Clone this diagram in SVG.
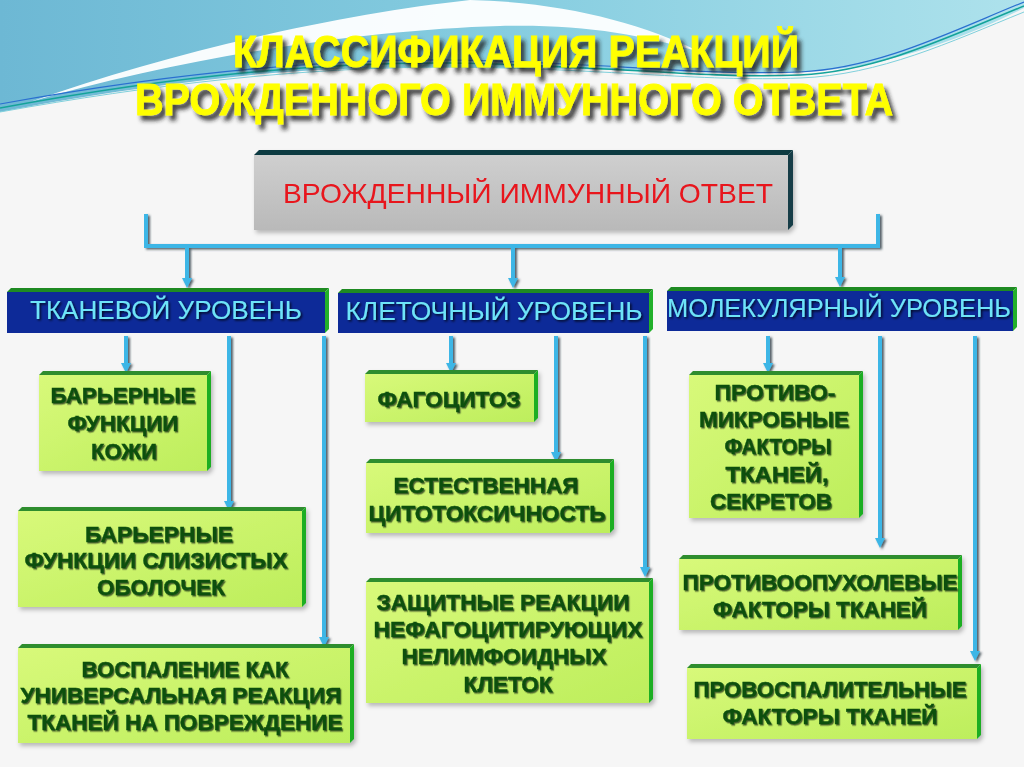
<svg xmlns="http://www.w3.org/2000/svg" width="1024" height="767" viewBox="0 0 1024 767">
<defs>
<linearGradient id="sky" x1="0" y1="0" x2="1" y2="0">
<stop offset="0" stop-color="#6db8d4"/><stop offset="0.5" stop-color="#86cde0"/><stop offset="1" stop-color="#aee2ec"/>
</linearGradient>
<linearGradient id="gfill" x1="0" y1="0" x2="1" y2="1">
<stop offset="0" stop-color="#d8f97a"/><stop offset="1" stop-color="#bdee5c"/>
</linearGradient>
<linearGradient id="gray" x1="0" y1="0" x2="0" y2="1">
<stop offset="0" stop-color="#cfcfcf"/><stop offset="1" stop-color="#b9b9b9"/>
</linearGradient>
<filter id="tsh" x="-10%" y="-60%" width="125%" height="220%"><feDropShadow dx="4" dy="5" stdDeviation="2" flood-color="#1a1a1a" flood-opacity="0.85"/></filter>
<filter id="gsh" x="-10%" y="-30%" width="120%" height="160%"><feDropShadow dx="1.2" dy="1.4" stdDeviation="0.7" flood-color="#0c240a" flood-opacity="0.7"/></filter>
<filter id="hsh" x="-10%" y="-30%" width="120%" height="160%"><feDropShadow dx="1.5" dy="1.5" stdDeviation="0.8" flood-color="#000" flood-opacity="0.8"/></filter>
<filter id="bsh" x="-10%" y="-10%" width="125%" height="130%"><feDropShadow dx="2" dy="3" stdDeviation="2" flood-color="#000" flood-opacity="0.25"/></filter>
<filter id="csh" x="-50%" y="-10%" width="200%" height="130%"><feDropShadow dx="2" dy="1.5" stdDeviation="1" flood-color="#2a3a44" flood-opacity="0.8"/></filter>
<marker id="ah" viewBox="0 0 10 10" refX="2" refY="5" markerWidth="10" markerHeight="10" markerUnits="userSpaceOnUse" orient="auto">
<path d="M0,0 L10,5 L0,10 Z" fill="#3cb6e6"/>
</marker>
<style>
.title{font-family:"Liberation Sans",Arial,sans-serif;font-weight:bold;font-size:45px;fill:#ffff00;stroke:#ffff00;stroke-width:0.8;text-anchor:middle;filter:url(#tsh)}
.gt{font-family:"Liberation Sans",Arial,sans-serif;font-weight:bold;font-size:22px;fill:#0a4f10;stroke:#0a4f10;stroke-width:0.4;text-anchor:middle;filter:url(#gsh)}
.ht{font-family:"Liberation Sans",Arial,sans-serif;font-size:25px;fill:#6ee4f8;text-anchor:middle;filter:url(#hsh)}
.gb{fill:url(#gfill)}
.gtop{fill:#2e8d2e}
.gright{fill:#1fae24}
.hb{fill:#0d2a98}
.htop{fill:#1e8a22}
.hright{fill:#22b02a}
.conn{fill:none;stroke:#3cb6e6;stroke-width:4}
</style>
</defs>

<rect x="0" y="0" width="1024" height="767" fill="#f6f6f6"/>
<!-- top wave background -->
<path d="M0,0 H1024 V8 C960,40 880,70 800,72 C650,76 450,58 260,74 C160,84 70,98 0,112 Z" fill="url(#sky)"/>
<path d="M30,102 C180,58 360,30 500,26 C580,24 640,34 700,52 C640,22 560,2 470,0 C340,14 170,52 30,102 Z" fill="#ffffff" opacity="0.95"/>
<path d="M0,108 C150,80 300,62 450,63 C600,65 700,79 800,75 C880,71 950,36 1024,6" fill="none" stroke="#14a39a" stroke-width="1.6"/>
<path d="M0,104 C150,77 300,59 450,60 C600,62 700,76 800,72 C880,68 950,32 1024,2" fill="none" stroke="#2a6fd0" stroke-width="1.2"/>
<path d="M0,112 C150,85 300,67 450,67 C600,68 700,82 800,78 C880,75 950,42 1024,12" fill="none" stroke="#7fd0dc" stroke-width="1"/>

<!-- title -->
<g id="title">
<text class="title" x="516" y="67" textLength="566" lengthAdjust="spacingAndGlyphs">КЛАССИФИКАЦИЯ РЕАКЦИЙ</text>
<text class="title" x="514" y="115" textLength="758" lengthAdjust="spacingAndGlyphs">ВРОЖДЕННОГО ИММУННОГО ОТВЕТА</text>
</g>

<!-- connectors -->
<g id="connectors" filter="url(#csh)">
<path class="conn" d="M146,214 V246 H878 V214"/>
<path class="conn" d="M187,246 V280" marker-end="url(#ah)"/>
<path class="conn" d="M513,246 V280" marker-end="url(#ah)"/>
<path class="conn" d="M840,246 V279" marker-end="url(#ah)"/>
<path class="conn" d="M126,336 V365" marker-end="url(#ah)"/>
<path class="conn" d="M229,336 V503" marker-end="url(#ah)"/>
<path class="conn" d="M324,336 V639" marker-end="url(#ah)"/>
<path class="conn" d="M451,336 V365" marker-end="url(#ah)"/>
<path class="conn" d="M556,336 V454" marker-end="url(#ah)"/>
<path class="conn" d="M645,336 V569" marker-end="url(#ah)"/>
<path class="conn" d="M768,336 V365" marker-end="url(#ah)"/>
<path class="conn" d="M880,336 V540" marker-end="url(#ah)"/>
<path class="conn" d="M975,336 V653" marker-end="url(#ah)"/>
</g>

<!-- root -->
<g id="root" filter="url(#bsh)">
<polygon points="254,155 259,150 793,150 788,155" fill="#0e3a42"/>
<polygon points="788,155 793,150 793,225 788,230" fill="#123e46"/>
<rect x="254" y="155" width="534" height="75" fill="url(#gray)"/>
<text x="528" y="203" font-family="Liberation Sans, Arial, sans-serif" font-size="28" fill="#e8141e" text-anchor="middle" textLength="490" lengthAdjust="spacingAndGlyphs">ВРОЖДЕННЫЙ ИММУННЫЙ ОТВЕТ</text>
</g>

<!-- headers -->
<g id="h-tissue">
<polygon class="htop" points="7,292 11,288 329,288 325,292"/>
<polygon class="hright" points="325,292 329,288 329,329 325,333"/>
<rect class="hb" x="7" y="292" width="318" height="41"/>
<text class="ht" x="166" y="319" textLength="272" lengthAdjust="spacingAndGlyphs">ТКАНЕВОЙ УРОВЕНЬ</text>
</g>
<g id="h-cell">
<polygon class="htop" points="338,293 342,289 653,289 649,293"/>
<polygon class="hright" points="649,293 653,289 653,329 649,333"/>
<rect class="hb" x="338" y="293" width="311" height="40"/>
<text class="ht" x="494" y="320" textLength="297" lengthAdjust="spacingAndGlyphs">КЛЕТОЧНЫЙ УРОВЕНЬ</text>
</g>
<g id="h-mol">
<polygon class="htop" points="667,291 671,287 1017,287 1013,291"/>
<polygon class="hright" points="1013,291 1017,287 1017,327 1013,331"/>
<rect class="hb" x="667" y="291" width="346" height="40"/>
<text class="ht" x="839" y="317" textLength="344" lengthAdjust="spacingAndGlyphs">МОЛЕКУЛЯРНЫЙ УРОВЕНЬ</text>
</g>

<!-- green boxes -->
<g id="b-skin" filter="url(#bsh)">
<polygon class="gtop" points="39,375 43,371 211,371 207,375"/>
<polygon class="gright" points="207,375 211,371 211,467 207,471"/>
<rect class="gb" x="39" y="375" width="168" height="96"/>
<text class="gt" x="123" y="403" textLength="145" lengthAdjust="spacingAndGlyphs">БАРЬЕРНЫЕ</text>
<text class="gt" x="123" y="431" textLength="111" lengthAdjust="spacingAndGlyphs">ФУНКЦИИ</text>
<text class="gt" x="124" y="459" textLength="66" lengthAdjust="spacingAndGlyphs">КОЖИ</text>
</g>
<g id="b-mucosa" filter="url(#bsh)">
<polygon class="gtop" points="18,511 22,507 306,507 302,511"/>
<polygon class="gright" points="302,511 306,507 306,603 302,607"/>
<rect class="gb" x="18" y="511" width="284" height="96"/>
<text class="gt" x="159" y="542" textLength="148" lengthAdjust="spacingAndGlyphs">БАРЬЕРНЫЕ</text>
<text class="gt" x="156" y="568" textLength="263" lengthAdjust="spacingAndGlyphs">ФУНКЦИИ СЛИЗИСТЫХ</text>
<text class="gt" x="161" y="595" textLength="128" lengthAdjust="spacingAndGlyphs">ОБОЛОЧЕК</text>
</g>
<g id="b-inflam" filter="url(#bsh)">
<polygon class="gtop" points="18,648 22,644 354,644 350,648"/>
<polygon class="gright" points="350,648 354,644 354,739 350,743"/>
<rect class="gb" x="18" y="648" width="332" height="95"/>
<text class="gt" x="185" y="677" textLength="207" lengthAdjust="spacingAndGlyphs">ВОСПАЛЕНИЕ КАК</text>
<text class="gt" x="181" y="703" textLength="321" lengthAdjust="spacingAndGlyphs">УНИВЕРСАЛЬНАЯ РЕАКЦИЯ</text>
<text class="gt" x="185" y="730" textLength="315" lengthAdjust="spacingAndGlyphs">ТКАНЕЙ НА ПОВРЕЖДЕНИЕ</text>
</g>
<g id="b-phago" filter="url(#bsh)">
<polygon class="gtop" points="365,374 369,370 538,370 534,374"/>
<polygon class="gright" points="534,374 538,370 538,418 534,422"/>
<rect class="gb" x="365" y="374" width="169" height="48"/>
<text class="gt" x="449" y="407" textLength="143" lengthAdjust="spacingAndGlyphs">ФАГОЦИТОЗ</text>
</g>
<g id="b-cyto" filter="url(#bsh)">
<polygon class="gtop" points="366,463 370,459 614,459 610,463"/>
<polygon class="gright" points="610,463 614,459 614,529 610,533"/>
<rect class="gb" x="366" y="463" width="244" height="70"/>
<text class="gt" x="486" y="493" textLength="185" lengthAdjust="spacingAndGlyphs">ЕСТЕСТВЕННАЯ</text>
<text class="gt" x="487" y="521" textLength="237" lengthAdjust="spacingAndGlyphs">ЦИТОТОКСИЧНОСТЬ</text>
</g>
<g id="b-nonphago" filter="url(#bsh)">
<polygon class="gtop" points="366,582 370,578 653,578 649,582"/>
<polygon class="gright" points="649,582 653,578 653,699 649,703"/>
<rect class="gb" x="366" y="582" width="283" height="121"/>
<text class="gt" x="503" y="610" textLength="253" lengthAdjust="spacingAndGlyphs">ЗАЩИТНЫЕ РЕАКЦИИ</text>
<text class="gt" x="508" y="637" textLength="269" lengthAdjust="spacingAndGlyphs">НЕФАГОЦИТИРУЮЩИХ</text>
<text class="gt" x="504" y="664" textLength="205" lengthAdjust="spacingAndGlyphs">НЕЛИМФОИДНЫХ</text>
<text class="gt" x="508" y="692" textLength="89" lengthAdjust="spacingAndGlyphs">КЛЕТОК</text>
</g>
<g id="b-antimicro" filter="url(#bsh)">
<polygon class="gtop" points="689,375 693,371 863,371 859,375"/>
<polygon class="gright" points="859,375 863,371 863,514 859,518"/>
<rect class="gb" x="689" y="375" width="170" height="143"/>
<text class="gt" x="775" y="400" textLength="121" lengthAdjust="spacingAndGlyphs">ПРОТИВО-</text>
<text class="gt" x="774" y="427" textLength="150" lengthAdjust="spacingAndGlyphs">МИКРОБНЫЕ</text>
<text class="gt" x="778" y="454" textLength="107" lengthAdjust="spacingAndGlyphs">ФАКТОРЫ</text>
<text class="gt" x="777" y="482" textLength="103" lengthAdjust="spacingAndGlyphs">ТКАНЕЙ,</text>
<text class="gt" x="771" y="509" textLength="122" lengthAdjust="spacingAndGlyphs">СЕКРЕТОВ</text>
</g>
<g id="b-antitumor" filter="url(#bsh)">
<polygon class="gtop" points="679,559 683,555 962,555 958,559"/>
<polygon class="gright" points="958,559 962,555 962,626 958,630"/>
<rect class="gb" x="679" y="559" width="279" height="71"/>
<text class="gt" x="820" y="590" textLength="275" lengthAdjust="spacingAndGlyphs">ПРОТИВООПУХОЛЕВЫЕ</text>
<text class="gt" x="820" y="617" textLength="214" lengthAdjust="spacingAndGlyphs">ФАКТОРЫ ТКАНЕЙ</text>
</g>
<g id="b-proinflam" filter="url(#bsh)">
<polygon class="gtop" points="687,668 691,664 981,664 977,668"/>
<polygon class="gright" points="977,668 981,664 981,735 977,739"/>
<rect class="gb" x="687" y="668" width="290" height="71"/>
<text class="gt" x="830" y="697" textLength="273" lengthAdjust="spacingAndGlyphs">ПРОВОСПАЛИТЕЛЬНЫЕ</text>
<text class="gt" x="830" y="724" textLength="215" lengthAdjust="spacingAndGlyphs">ФАКТОРЫ ТКАНЕЙ</text>
</g>
</svg>
